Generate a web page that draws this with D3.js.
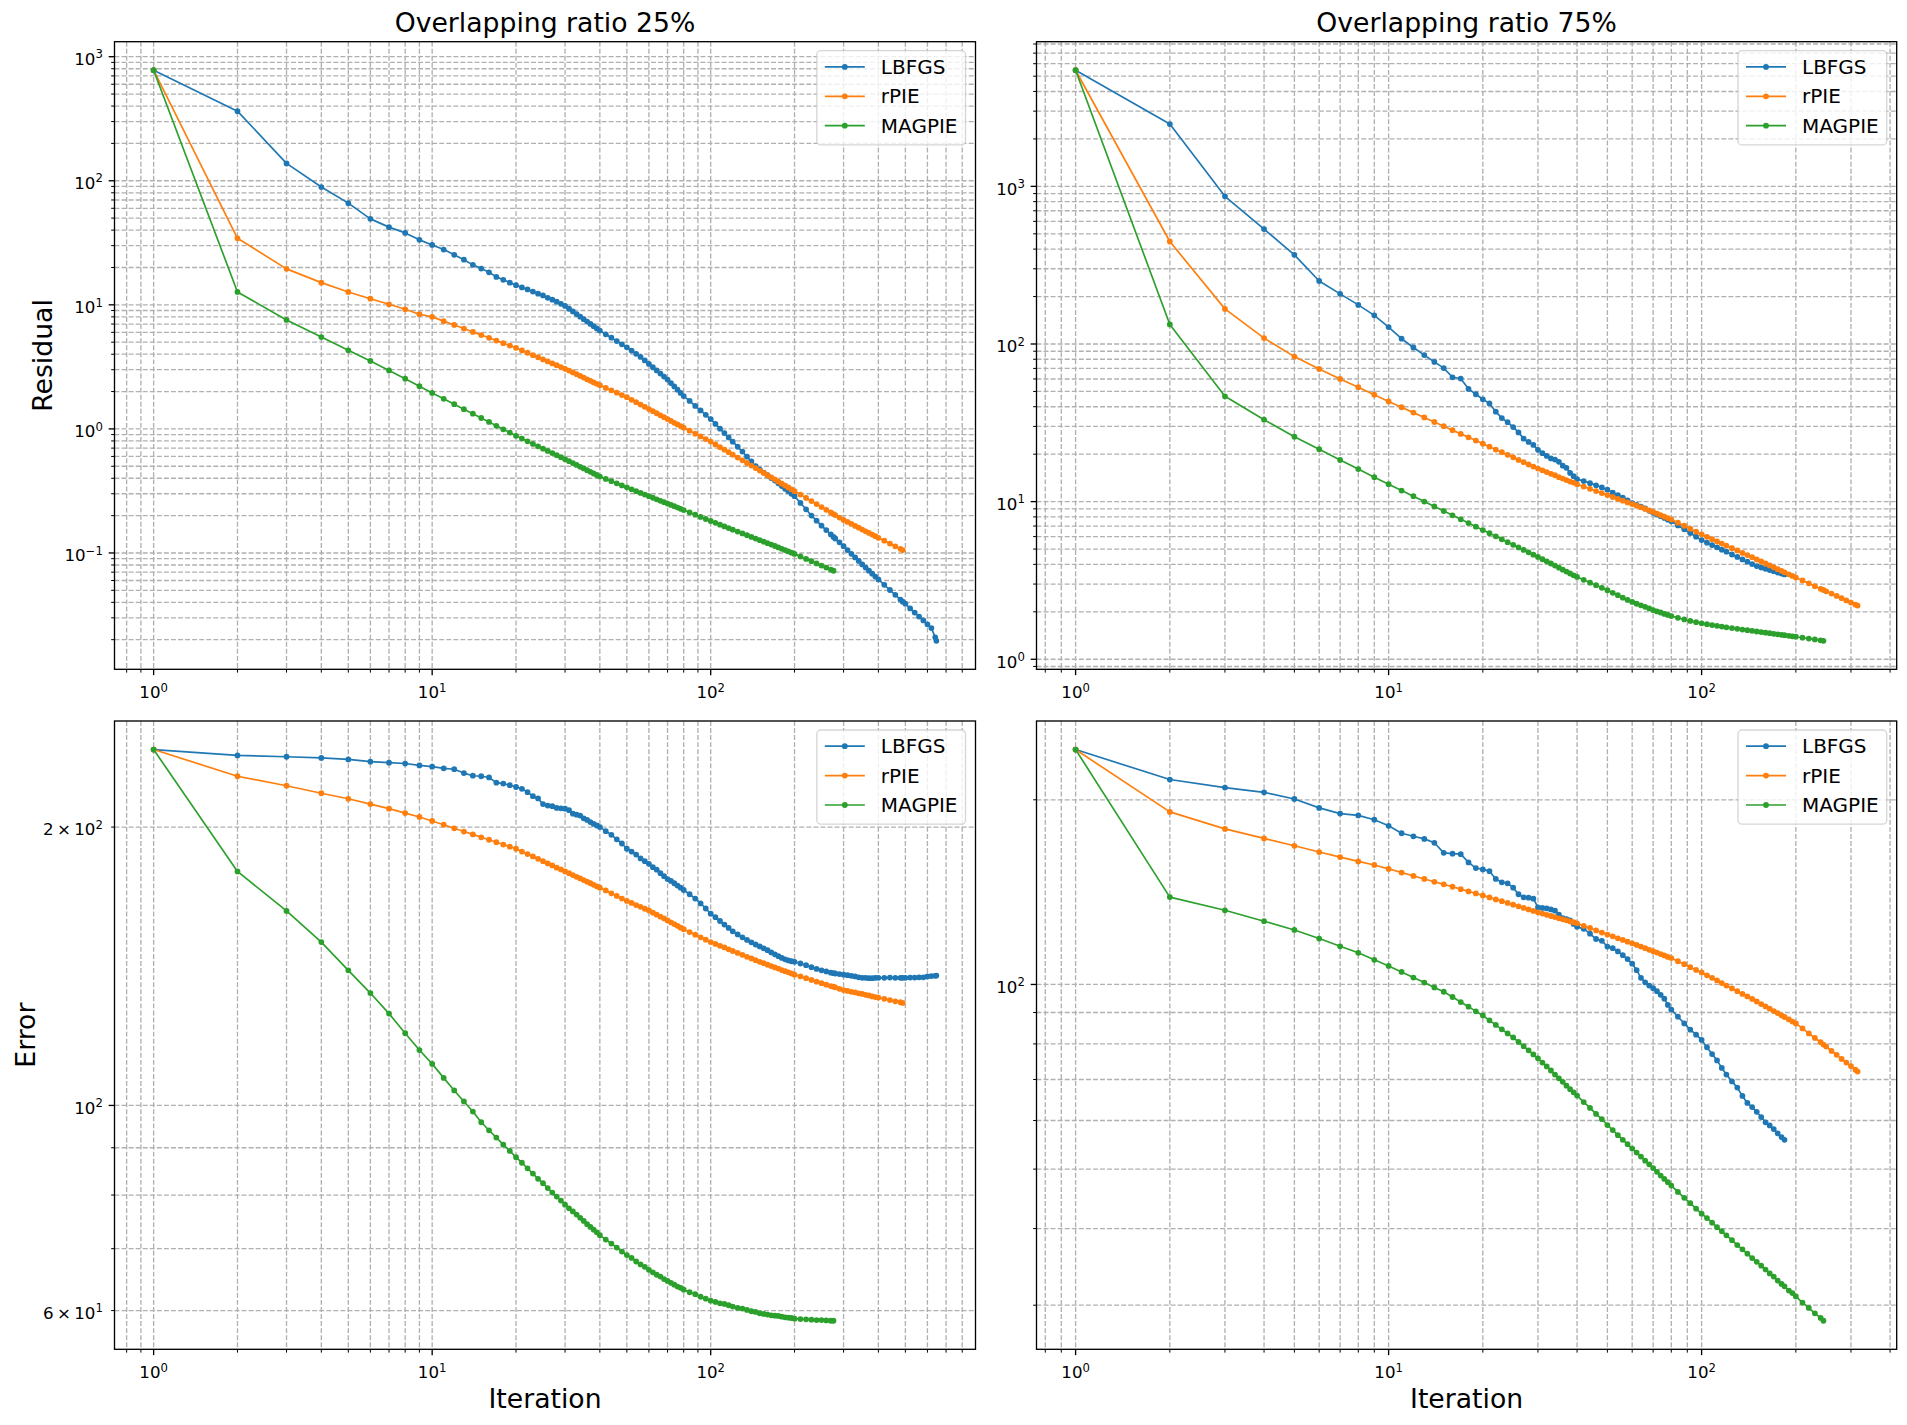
<!DOCTYPE html>
<html><head><meta charset="utf-8">
<script src="https://cdn.jsdelivr.net/npm/d3@7"></script>
<style>body{margin:0;background:#fff}svg{display:block}</style>
</head><body>
<svg id="c" width="1907" height="1425"></svg>
<script>
// ---------------- data ----------------
const seriesNames = ["LBFGS", "rPIE", "MAGPIE"];
const seriesColors = ["#1f77b4", "#ff7f0e", "#2ca02c"];
const colTitles = ["Overlapping ratio 25%", "Overlapping ratio 75%"];
const rowLabels = ["Residual", "Error"];
const xLabelText = "Iteration";

// iteration numbers at which values were read (overlap 25% and 75%)
const iterA = [1,2,3,4,5,6,7,8,9,10,11,12,13,14,15,16,17,18,19,20,21,22,23,24,25,26,27,28,29,30,31,32,33,34,35,36,37,38,39,40,
42,44,46,48,50,52,54,56,58,60,62,64,66,68,70,72,74,76,78,80,
84,88,92,96,100,104,108,112,116,120,
125,130,135,140,145,150,155,160,165,170,175,180,185,190,195,200,
210,220,230,240,250,260,270,276,280,290,300,310,320,330,340,350,360,370,380,390,400,
420,440,460,480,489,500,520,540,560,580,600,620,640,646];
const iterB = [1,2,3,4,5,6,7,8,9,10,11,12,13,14,15,16,17,18,19,20,21,22,23,24,25,26,27,28,29,30,31,32,33,34,35,36,37,38,39,40,
42,44,46,48,50,52,54,56,58,60,62,64,66,68,70,72,74,76,78,80,
84,88,92,96,100,104,108,112,116,120,
125,130,135,140,145,150,155,160,165,170,175,180,
184,190,195,200,210,220,230,240,245,250,260,270,280,290,300,310,315];

// Residual, overlap 25%
const resA_LBFGS = [778,364,138,89,66,49.3,42.3,38,33.4,30.4,
27.9,25.3,23.1,21.0,19.6,18.3,16.8,15.9,15.1,14.4,
13.8,13.3,12.8,12.3,11.9,11.4,11.0,10.6,10.2,9.8,
9.3,8.84,8.42,8.03,7.67,7.33,7.02,6.73,6.46,6.2,
5.79,5.43,5.10,4.81,4.55,4.28,4.03,3.8,3.56,3.34,3.14,2.96,2.79,2.64,2.50,2.34,2.20,2.07,1.95,1.84,
1.68,1.53,1.41,1.30,1.20,1.097,1.005,0.925,0.853,0.789,
0.718,0.656,0.597,0.546,0.500,0.470,0.445,0.423,0.402,0.383,0.364,0.346,0.329,0.314,0.300,0.287,
0.253,0.225,0.200,0.182,0.166,0.153,0.141,0.1346,0.1308,0.1219,0.1135,0.1056,0.0985,0.0920,0.0862,0.0809,0.0763,0.0720,0.0681,0.0645,0.0612,
0.0554,0.0503,0.0460,0.0421,0.0405,0.0390,0.0357,0.0331,0.0307,0.0286,0.0266,0.0248,0.0209,0.0196];
const resA_rPIE = [778,34.4,19.5,15.1,12.7,11.2,10.1,9.2,8.4,8.0,
7.39,6.88,6.44,6.05,5.71,5.42,5.15,4.91,4.70,4.50,
4.29,4.11,3.93,3.78,3.63,3.50,3.37,3.26,3.15,3.05,
2.95,2.85,2.76,2.67,2.59,2.51,2.44,2.37,2.31,2.25,
2.14,2.045,1.957,1.875,1.80,1.717,1.641,1.57,1.505,1.446,1.390,1.337,1.288,1.243,1.20,1.160,1.12,1.086,1.054,1.023,
0.967,0.916,0.870,0.828,0.79,0.750,0.713,0.680,0.649,0.620,
0.588,0.558,0.531,0.506,0.483,0.461,0.442,0.424,0.407,0.391,0.376,0.362,0.349,0.337,0.326,0.315,
0.2953,0.2778,0.2620,0.2477,0.2346,0.2228,0.2120,0.2059,0.2020,0.1929,0.1845,0.1777,0.1713,0.1653,0.1598,0.1545,0.1496,0.1450,0.1406,0.1365,0.1326,
0.1255,0.1190,0.1132,0.1079,0.1055];
const resA_MAGPIE = [778,12.7,7.55,5.5,4.3,3.53,2.96,2.54,2.21,1.95,
1.748,1.582,1.443,1.325,1.224,1.137,1.060,0.993,0.934,0.88,
0.835,0.795,0.757,0.724,0.693,0.664,0.638,0.614,0.591,0.57,
0.549,0.530,0.512,0.495,0.480,0.465,0.451,0.437,0.425,0.413,
0.395,0.379,0.364,0.3505,0.338,0.326,0.315,0.305,0.2956,0.2868,0.2786,0.2708,0.2635,0.2566,0.2500,0.2439,0.238,0.2323,0.2269,0.2217,
0.2121,0.2033,0.1952,0.1878,0.181,0.1749,0.1691,0.1638,0.1588,0.1542,
0.1487,0.1437,0.1391,0.1348,0.1307,0.1269,0.1233,0.1200,0.1168,0.1138,0.1109,0.1081,0.1055,0.1029,0.1006,0.0983,
0.0938,0.0896,0.0858,0.0824,0.0792,0.0762,0.0735,0.0719];

// Residual, overlap 75%
const resB_LBFGS = [5455,2484,865,536,368,251,208,177,152,128,
108,95,85,77,70.3,61.5,60.4,51.9,48.0,44.6,
42,37.2,33.9,31.9,29.7,27.5,25.1,23.9,22.9,21.3,
20.3,19.5,18.8,18.5,17.9,16.9,16.4,15.2,14.5,13.9,
13.5,13.1,12.7,12.3,11.9,11.4,11.0,10.6,10.2,9.8,9.55,9.3,9.05,8.75,8.5,8.28,8.08,7.88,7.68,7.5,
7.06,6.67,6.32,5.99,5.7,5.49,5.30,5.13,4.96,4.81,
4.62,4.46,4.30,4.16,4.02,3.9,3.82,3.75,3.68,3.62,3.55,3.50,
3.45];
const resB_rPIE = [5455,447,167,109,83.2,69.4,60.0,53.2,47.7,43.2,
39.7,36.7,34.2,32.0,30.1,28.4,26.9,25.6,24.4,23.3,
22.3,21.4,20.6,19.8,19.1,18.4,17.8,17.2,16.7,16.2,
15.8,15.4,15.0,14.7,14.3,14.0,13.7,13.4,13.2,12.9,
12.46,12.05,11.67,11.33,11.0,10.70,10.41,10.14,9.89,9.65,9.42,9.20,8.99,8.79,8.6,8.40,8.21,8.03,7.86,7.7,
7.35,7.03,6.73,6.45,6.2,5.98,5.78,5.60,5.42,5.26,
5.07,4.90,4.73,4.58,4.44,4.30,4.17,4.05,3.94,3.83,3.73,3.64,
3.56,3.46,3.38,3.30,3.16,3.03,2.91,2.80,2.75,2.70,2.61,2.52,2.44,2.36,2.29,2.22,2.19];
const resB_MAGPIE = [5455,133,46.6,33.1,25.8,21.5,18.4,16.1,14.3,12.9,
11.76,10.82,10.01,9.32,8.72,8.19,7.72,7.31,6.94,6.6,
6.30,6.02,5.77,5.53,5.32,5.12,4.94,4.77,4.61,4.46,
4.31,4.18,4.05,3.93,3.81,3.70,3.60,3.50,3.41,3.33,
3.19,3.06,2.95,2.84,2.74,2.64,2.55,2.46,2.38,2.31,2.25,2.20,2.15,2.10,2.05,2.01,1.98,1.94,1.91,1.88,
1.831,1.788,1.751,1.719,1.69,1.668,1.648,1.629,1.611,1.595,
1.577,1.559,1.543,1.528,1.514,1.50,1.487,1.474,1.463,1.451,1.440,1.429,
1.421,1.409,1.399,1.39,1.370,1.352,1.335,1.318,1.31];

// Error, overlap 25%
const errA_LBFGS = [242.6,239.1,238.3,237.6,236.7,235.4,234.8,234.3,233.2,232.5,
231.5,231.0,228.8,227.3,227.0,226.3,223.4,222.9,222.0,221.0,
220.0,218.2,216.0,214.8,211.8,211.0,210.7,209.8,209.6,209.4,
208.6,206.8,206.3,205.8,204.4,203.6,202.5,201.6,200.8,200.0,
198.0,196.2,194.0,192.0,189.5,188.2,186.8,185.0,183.7,182.5,181.0,179.9,178.3,177.0,175.7,174.9,173.9,172.9,172.0,171.0,
169.2,167.4,165.4,163.3,161.2,159.8,158.3,156.9,155.6,154.3,
153.1,152.0,151.0,150.1,149.3,148.6,147.9,147.2,146.4,145.7,145.0,144.4,143.9,143.5,143.2,143.0,
142.4,141.8,141.1,140.5,140.0,139.6,139.2,139.0,138.9,138.7,138.5,138.3,138.1,137.9,137.6,137.4,137.4,137.3,137.3,137.4,137.4,
137.4,137.5,137.4,137.4,137.4,137.4,137.5,137.5,137.6,137.6,137.9,138.0,138.1,138.2];
const errA_rPIE = [242.6,227.0,221.7,217.6,214.6,211.8,209.4,207.1,205.1,203.1,
201.2,199.4,197.8,196.4,195.0,193.8,192.6,191.5,190.5,189.5,
188.2,187.0,185.9,184.8,183.7,182.7,181.8,180.8,180.0,179.1,
178.3,177.5,176.7,176.0,175.3,174.6,173.9,173.2,172.6,172.0,
170.8,169.6,168.5,167.4,166.4,165.6,164.7,164.0,163.2,162.5,161.6,160.8,160.0,159.3,158.5,157.8,157.1,156.4,155.7,155.1,
154.0,153.0,152.0,151.1,150.2,149.5,148.8,148.2,147.5,146.9,
146.2,145.5,144.8,144.2,143.6,143.0,142.5,142.0,141.5,141.0,140.6,140.1,139.7,139.3,138.9,138.5,
137.9,137.3,136.7,136.1,135.6,135.1,134.6,134.4,134.2,133.7,133.3,133.0,132.7,132.5,132.2,132.0,131.7,131.5,131.2,131.0,130.8,
130.4,130.0,129.6,129.3,129.1];
const errA_MAGPIE = [242.6,179.1,162.3,150.2,140.0,132.3,125.7,119.7,114.8,110.9,
107.1,103.8,101.0,98.5,95.9,94.0,92.3,90.7,89.3,87.9,
86.7,85.5,84.4,83.3,82.4,81.4,80.5,79.7,78.9,78.1,
77.4,76.8,76.2,75.6,75.0,74.4,73.9,73.4,72.9,72.4,
71.6,70.9,70.2,69.5,68.9,68.4,67.8,67.3,66.9,66.4,66.0,65.6,65.3,64.9,64.6,64.3,64.0,63.7,63.5,63.2,
62.8,62.5,62.1,61.8,61.5,61.3,61.1,61.0,60.8,60.6,
60.4,60.3,60.1,59.9,59.8,59.6,59.5,59.4,59.3,59.25,59.2,59.1,59.0,58.95,58.9,58.8,
58.75,58.7,58.65,58.6,58.6,58.55,58.5,58.5];

// Error, overlap 75%
const errB_LBFGS = [241.5,215.8,209.4,205.7,200.6,194.0,189.9,188.6,185.6,181.4,
176.4,174.4,172.7,170.2,163.9,163.4,163.1,158.1,154.8,154.0,
153.0,148.6,146.7,146.2,143.8,140.3,138.7,138.5,138.0,133.6,
133.3,133.0,132.5,131.9,130.0,128.3,127.8,127.2,125.5,124.2,
123.2,121.0,118.6,117.8,115.3,114.6,113.2,111.6,110.0,108.1,105.5,102.5,100.8,99.6,98.6,97.5,96.2,94.8,92.6,91.0,
88.6,86.4,84.4,82.8,81.2,79.0,77.0,75.2,73.1,71.3,
69.5,67.9,65.8,64.1,63.1,62.0,60.8,59.6,58.9,58.1,57.2,56.4,
55.8];
const errB_rPIE = [241.5,191.1,179.3,173.0,168.3,164.4,161.3,158.7,156.6,154.3,
152.2,150.3,148.6,147.0,145.6,144.3,143.0,141.8,140.7,139.7,
138.6,137.6,136.7,135.8,134.9,134.1,133.3,132.5,131.8,131.1,
130.5,129.9,129.3,128.8,128.2,127.7,127.2,126.7,126.3,125.8,
124.6,123.6,122.5,121.5,120.6,119.8,118.9,118.2,117.4,116.7,116.0,115.3,114.6,113.9,113.3,112.7,112.1,111.5,110.9,110.4,
109.1,107.9,106.7,105.6,104.6,103.5,102.5,101.5,100.5,99.6,
98.5,97.5,96.5,95.6,94.7,93.8,92.9,92.1,91.3,90.5,89.8,89.0,
88.5,87.7,87.0,86.4,84.8,83.2,81.8,80.5,79.8,79.2,77.9,76.8,75.6,74.6,73.6,72.6,72.1];
const errB_MAGPIE = [241.5,138.8,132.1,126.8,122.7,118.8,115.4,112.6,109.7,107.2,
104.8,102.6,100.7,98.9,97.3,95.4,93.6,92.0,90.4,89.0,
87.4,85.9,84.5,83.2,81.95,80.6,79.3,78.1,76.9,75.8,
74.6,73.5,72.4,71.3,70.3,69.4,68.4,67.5,66.7,65.9,
64.3,62.9,61.5,60.3,59.0,57.9,56.8,55.8,54.9,54.0,53.2,52.4,51.6,50.9,50.2,49.5,48.8,48.2,47.6,47.0,
45.9,44.9,44.0,43.1,42.3,41.6,40.9,40.2,39.6,39.0,
38.3,37.6,37.0,36.4,35.8,35.3,34.8,34.3,33.8,33.4,32.9,32.5,
32.2,31.7,31.4,31.0,30.3,29.7,29.1,28.6,28.3];

// ---------------- layout ----------------
const W = 1907, H = 1425;
const FONT = "'DejaVu Sans', 'Liberation Sans', sans-serif";
const colX = [[114.5, 975.5], [1036.5, 1896.7]];
const rowY = [[41.7, 669.3], [721, 1349.3]];
const yLabelX = [42.5, 25.5];

const panels = [
  {r:0, c:0, it:iterA, ys:[resA_LBFGS, resA_rPIE, resA_MAGPIE]},
  {r:0, c:1, it:iterB, ys:[resB_LBFGS, resB_rPIE, resB_MAGPIE]},
  {r:1, c:0, it:iterA, ys:[errA_LBFGS, errA_rPIE, errA_MAGPIE]},
  {r:1, c:1, it:iterB, ys:[errB_LBFGS, errB_rPIE, errB_MAGPIE]},
];

const svg = d3.select("#c");
svg.append("rect").attr("width", W).attr("height", H).attr("fill", "#fff");

function logPad(lo, hi) {
  const a = Math.log10(lo), b = Math.log10(hi), m = 0.05 * (b - a);
  return [Math.pow(10, a - m), Math.pow(10, b + m)];
}
function logTicks(dom) {
  const [lo, hi] = dom, out = [];
  for (let k = Math.floor(Math.log10(lo)); k <= Math.ceil(Math.log10(hi)); k++) {
    for (let m = 1; m <= 9; m++) {
      const v = m * Math.pow(10, k);
      if (v >= lo * 0.999999 && v <= hi * 1.000001) out.push({v, major: m === 1, coef: m, exp: k});
    }
  }
  return out;
}
function mathText(g, coef, exp, fs) {
  const t = g.append("text").attr("font-family", FONT).attr("font-size", fs).attr("fill", "#000");
  if (coef !== 1) t.append("tspan").text(coef + "\u2009\u00d7\u2009");
  t.append("tspan").text("10");
  t.append("tspan").attr("font-size", fs * 0.7).attr("dy", -fs * 0.396)
    .text(exp < 0 ? "\u2212" + (-exp) : String(exp));
  return t;
}

const TICK_FS = 16.67;
const GRID = {stroke: "#b0b0b0", w: 1.33, dash: "4.93,2.13"};
const MR = 2.05, MSW = 1.67;

panels.forEach(p => {
  const [x0, x1] = colX[p.c], [y0, y1] = rowY[p.r];
  const g = svg.append("g");
  let maxIt = 0, ymin = Infinity, ymax = -Infinity;
  p.ys.forEach(s => {
    maxIt = Math.max(maxIt, p.it[s.length - 1]);
    s.forEach(v => { ymin = Math.min(ymin, v); ymax = Math.max(ymax, v); });
  });
  const xDom = logPad(p.it[0], maxIt);
  const yDom = logPad(ymin, ymax);
  const x = d3.scaleLog().domain(xDom).range([x0, x1]);
  const y = d3.scaleLog().domain(yDom).range([y1, y0]);

  const xt = logTicks(xDom), yt = logTicks(yDom);
  const numdecY = Math.log10(yDom[1]) - Math.log10(yDom[0]);
  const subset = new Set([1, 2, 3, 4, 6]);

  // grid (major + minor)
  const grid = g.append("g").attr("stroke", GRID.stroke).attr("stroke-width", GRID.w)
    .attr("stroke-dasharray", GRID.dash).attr("fill", "none");
  xt.forEach(t => grid.append("line").attr("x1", x(t.v)).attr("x2", x(t.v)).attr("y1", y0).attr("y2", y1));
  yt.forEach(t => grid.append("line").attr("y1", y(t.v)).attr("y2", y(t.v)).attr("x1", x0).attr("x2", x1));

  // ticks
  const tk = g.append("g").attr("stroke", "#000");
  xt.forEach(t => tk.append("line").attr("x1", x(t.v)).attr("x2", x(t.v)).attr("y1", y1)
    .attr("y2", y1 + (t.major ? 5.83 : 3.33)).attr("stroke-width", t.major ? 1.33 : 1));
  yt.forEach(t => tk.append("line").attr("y1", y(t.v)).attr("y2", y(t.v)).attr("x1", x0)
    .attr("x2", x0 - (t.major ? 5.83 : 3.33)).attr("stroke-width", t.major ? 1.33 : 1));

  // tick labels
  xt.filter(t => t.major).forEach(t => {
    mathText(g, 1, t.exp, TICK_FS).attr("x", x(t.v)).attr("y", y1 + 29).attr("text-anchor", "middle");
  });
  yt.forEach(t => {
    let show = t.major;
    if (!t.major && numdecY <= 1 && numdecY > 0.4) show = subset.has(t.coef);
    if (!t.major && numdecY <= 0.4) show = true;
    if (show) mathText(g, t.coef, t.exp, TICK_FS).attr("x", x0 - 11.7).attr("y", y(t.v) + 8.3)
      .attr("text-anchor", "end");
  });

  // series
  const line = d3.line().x(d => x(d[0])).y(d => y(d[1]));
  p.ys.forEach((s, i) => {
    const pts = s.map((v, j) => [p.it[j], v]);
    const sg = g.append("g");
    sg.append("path").datum(pts).attr("d", line).attr("fill", "none")
      .attr("stroke", seriesColors[i]).attr("stroke-width", 1.67).attr("stroke-linejoin", "round");
    sg.selectAll("circle").data(pts).enter().append("circle")
      .attr("cx", d => x(d[0])).attr("cy", d => y(d[1])).attr("r", MR)
      .attr("fill", seriesColors[i]).attr("stroke", seriesColors[i]).attr("stroke-width", MSW);
  });

  // spines
  g.append("rect").attr("x", x0).attr("y", y0).attr("width", x1 - x0).attr("height", y1 - y0)
    .attr("fill", "none").attr("stroke", "#000").attr("stroke-width", 1.33);

  // legend
  const fsL = 20;
  const lg = g.append("g");
  const rowH = 19.4, lsp = 10, pad = 8;
  const box = lg.append("rect");
  const texts = seriesNames.map(n => lg.append("text").attr("font-family", FONT).attr("font-size", fsL)
    .attr("fill", "#000").text(n));
  const maxW = d3.max(texts, t => t.node().getComputedTextLength());
  const bw = pad + 2 * fsL + 0.8 * fsL + maxW + pad;
  const bh = 2 * pad + 3 * rowH + 2 * lsp;
  const bx = x1 - 10 - bw, by = y0 + 9;
  box.attr("x", bx).attr("y", by).attr("width", bw).attr("height", bh).attr("rx", 4).attr("ry", 4)
    .attr("fill", "#fff").attr("fill-opacity", 0.8).attr("stroke", "#cccccc").attr("stroke-opacity", 0.8)
    .attr("stroke-width", 1.33);
  seriesNames.forEach((n, i) => {
    const base = by + pad + i * (rowH + lsp) + 15.2;
    const hy = base - 7;
    lg.append("line").attr("x1", bx + pad).attr("x2", bx + pad + 2 * fsL).attr("y1", hy).attr("y2", hy)
      .attr("stroke", seriesColors[i]).attr("stroke-width", 1.67);
    lg.append("circle").attr("cx", bx + pad + fsL).attr("cy", hy).attr("r", MR)
      .attr("fill", seriesColors[i]).attr("stroke", seriesColors[i]).attr("stroke-width", MSW);
    texts[i].attr("x", bx + pad + 2.8 * fsL).attr("y", base).raise();
  });

  // titles / axis labels
  if (p.r === 0) {
    g.append("text").attr("font-family", FONT).attr("font-size", 26.67).attr("text-anchor", "middle")
      .attr("x", (x0 + x1) / 2).attr("y", y0 - 10).text(colTitles[p.c]);
  }
  if (p.c === 0) {
    const cy = (y0 + y1) / 2, cx = yLabelX[p.r];
    g.append("text").attr("font-family", FONT).attr("font-size", 26.67).attr("text-anchor", "middle")
      .attr("transform", `translate(${cx},${cy}) rotate(-90)`).attr("y", 9.7).text(rowLabels[p.r]);
  }
  if (p.r === 1) {
    g.append("text").attr("font-family", FONT).attr("font-size", 26.67).attr("text-anchor", "middle")
      .attr("x", (x0 + x1) / 2).attr("y", 1408).text(xLabelText);
  }
});
</script>
</body></html>
